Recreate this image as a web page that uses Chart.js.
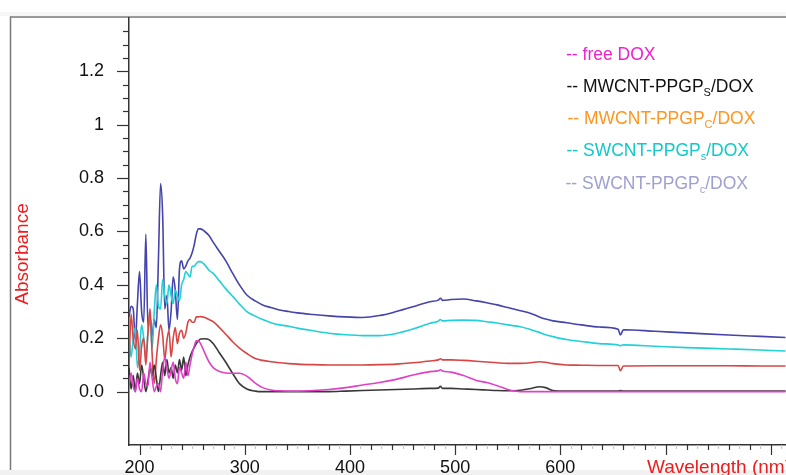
<!DOCTYPE html>
<html><head><meta charset="utf-8">
<style>
html,body{margin:0;padding:0;background:#fff;overflow:hidden}
#wrap{position:relative;width:786px;height:475px}
canvas{display:block}
</style>
<script src="https://cdn.jsdelivr.net/npm/chart.js@4.4.1/dist/chart.umd.min.js"></script>
</head><body>
<div id="wrap"><canvas id="c" width="786" height="475"></canvas></div>
<script>
// Wavelength grid (nm)
const wavelengths = [
  190,192,194,196,198,200,202,204,206,208,210,212,214,216,218,220,222,224,226,228,230,232,234,236,238,240,242,244,246,248,250,252,254,256,
  258,262,266,270,276,282,289,295,302,310,317,325,333,342,350,365,380,396,412,428,444,460,476,484,486,488,496,508,520,530,540,550,562,572,580,586,593,606,620,637,655,657,660,690,720,760,790,814
];
// free DOX (magenta)
const absFreeDox = [
  .03,.07,.02,.00,.05,.01,.00,.07,.03,.02,.11,.05,.00,.02,.03,.00,.08,.13,.09,.05,.08,.11,.05,.03,.09,.07,.05,.11,.06,.10,.14,.17,.19,.19,
  .18,.145,.112,.09,.075,.07,.069,.069,.058,.032,.015,.006,.003,.002,.002,.004,.008,.015,.025,.034,.046,.062,.075,.078,.082,.077,.073,.06,.042,.034,.022,.008,0,0,0,0,0,0,0,0,0,0,0,0,0,0,0,0
];
// MWCNT-PPGPs/DOX (black)
const absMwcntS = [
  .09,.01,.06,.00,.07,.03,.10,.05,.00,.04,.09,.06,.10,.05,.00,.06,.11,.06,.12,.07,.09,.05,.10,.07,.12,.08,.13,.06,.10,.13,.15,.165,.18,.19,
  .197,.198,.195,.18,.145,.11,.065,.03,.01,.002,0,0,0,0,0,0,0,.002,.004,.006,.008,.01,.012,.013,.02,.012,.012,.01,.008,.006,.004,.003,.005,.012,.018,.015,.004,.002,.002,.002,.002,.004,.002,.002,.002,.002,.002,.002
];
// MWCNT-PPGPc/DOX (red)
const absMwcntC = [
  .09,.29,.20,.16,.23,.08,.17,.20,.10,.22,.31,.14,.03,.12,.20,.25,.21,.12,.19,.23,.13,.20,.24,.18,.22,.23,.20,.22,.26,.27,.26,.26,.28,.28,
  .281,.278,.27,.262,.24,.215,.185,.163,.143,.124,.117,.112,.108,.105,.103,.101,.10,.10,.10,.101,.103,.108,.115,.119,.123,.119,.119,.117,.114,.111,.108,.106,.106,.108,.112,.11,.105,.10,.099,.098,.098,.078,.096,.097,.097,.097,.096,.096
];
// SWCNT-PPGPs/DOX (cyan)
const absSwcntS = [
  .20,.13,.20,.24,.09,.15,.25,.20,.13,.22,.28,.16,.30,.40,.32,.31,.42,.36,.33,.40,.36,.33,.38,.36,.34,.40,.42,.45,.44,.43,.47,.47,.48,.487,
  .487,.475,.455,.443,.415,.385,.355,.328,.30,.283,.27,.258,.25,.245,.238,.228,.219,.213,.21,.21,.218,.235,.256,.264,.27,.265,.267,.268,.267,.262,.257,.25,.243,.232,.222,.213,.206,.195,.188,.18,.175,.172,.175,.17,.165,.16,.156,.152
];
// SWCNT-PPGPc/DOX (navy)
const absSwcntC = [
  .28,.32,.31,.19,.33,.45,.30,.26,.59,.24,.28,.21,.27,.24,.50,.78,.66,.31,.36,.23,.30,.43,.38,.27,.46,.49,.46,.47,.49,.50,.52,.55,.59,.61,
  .61,.60,.585,.56,.525,.49,.44,.40,.362,.34,.325,.315,.306,.30,.295,.289,.284,.28,.278,.285,.30,.318,.337,.343,.35,.342,.345,.347,.34,.333,.325,.315,.303,.293,.28,.272,.265,.258,.25,.242,.234,.212,.232,.226,.22,.212,.207,.203
];

const xLabelTicks = [200,300,400,500,600];
const xLabels = ['200','300','400','500','600'];
const xMajorTicks = [200,300,400,500,600,700,800];
const xMinorStep = 20;
const yLabelTicks = [0,0.2,0.4,0.6,0.8,1.0,1.2];
const yLabels = ['0.0','0.2','0.4','0.6','0.8','1','1.2'];
const yMinorStep = 0.05;

const legendRows = [
  {pre:'-- free DOX', sub:'', post:'', color:'#ee22cc', x:566, y:59.5},
  {pre:'-- MWCNT-PPGP', sub:'S', post:'/DOX', color:'#111111', x:566.5, y:91.5},
  {pre:'-- MWCNT-PPGP', sub:'C', post:'/DOX', color:'#ff9620', x:567.5, y:124},
  {pre:'-- SWCNT-PPGP', sub:'s', post:'/DOX', color:'#12c8c8', x:566.5, y:156},
  {pre:'-- SWCNT-PPGP', sub:'c', post:'/DOX', color:'#a0a0d0', x:565.5, y:188.5}
];

const FONT = '"Liberation Sans", Arial, sans-serif';

function pts(arr){ return wavelengths.map((w,i)=>({x:w,y:arr[i]})); }

function zeroPad(s){ s.paddingTop = 0; s.paddingBottom = 0; s.paddingLeft = 0; s.paddingRight = 0; }

const decor = {
  id:'decor',
  beforeDraw(chart){
    const ctx = chart.ctx;
    ctx.save();
    ctx.fillStyle = '#f1f1f1';
    ctx.fillRect(0, 470, 786, 5);
    ctx.fillStyle = '#f7f7f7';
    ctx.fillRect(0, 12, 786, 4);
    ctx.strokeStyle = '#7a7a7a';
    ctx.lineWidth = 1.5;
    ctx.beginPath();
    ctx.moveTo(10.5, 470); ctx.lineTo(10.5, 17); ctx.lineTo(786, 17);
    ctx.stroke();
    ctx.restore();
  },
  afterDraw(chart){
    const {ctx, chartArea:ca, scales:{x, y}} = chart;
    ctx.save();
    // x ticks
    ctx.lineWidth = 1.2;
    for (let v = 200; v <= 810; v += 10) {
      const px = Math.round(x.getPixelForValue(v)) + 0.5;
      const major = xMajorTicks.includes(v);
      const minor = (v - 200) % xMinorStep === 0;
      ctx.strokeStyle = (major || minor) ? '#333' : '#c8c8c8';
      const len = major ? 10 : (minor ? 5 : 4);
      ctx.beginPath(); ctx.moveTo(px, ca.bottom); ctx.lineTo(px, ca.bottom + len); ctx.stroke();
    }
    // y ticks
    for (let k = 0; k <= 27; k++) {
      const v = k * yMinorStep;
      const py = Math.round(y.getPixelForValue(v)) + 0.5;
      const major = k % 4 === 0 && k <= 24;
      ctx.strokeStyle = '#333';
      const len = major ? 12 : 6;
      ctx.beginPath(); ctx.moveTo(ca.left, py); ctx.lineTo(ca.left - len, py); ctx.stroke();
    }
    // axis titles
    ctx.fillStyle = '#ee1c1c';
    ctx.font = '19px ' + FONT;
    ctx.textAlign = 'left'; ctx.textBaseline = 'alphabetic';
    ctx.fillText('Wavelength (nm)', 647, 473);
    ctx.save();
    ctx.translate(28, 254);
    ctx.rotate(-Math.PI/2);
    ctx.textAlign = 'center';
    ctx.fillText('Absorbance', 0, 0);
    ctx.restore();
    // legend
    ctx.textAlign = 'left'; ctx.textBaseline = 'alphabetic';
    legendRows.forEach(r => {
      ctx.fillStyle = r.color;
      ctx.font = '17.5px ' + FONT;
      let cx = r.x;
      ctx.fillText(r.pre, cx, r.y); cx += ctx.measureText(r.pre).width;
      if (r.sub) {
        ctx.font = '11px ' + FONT;
        ctx.fillText(r.sub, cx, r.y + 4); cx += ctx.measureText(r.sub).width;
        ctx.font = '17.5px ' + FONT;
        ctx.fillText(r.post, cx, r.y);
      }
    });
    ctx.restore();
  }
};

new Chart(document.getElementById('c'), {
  type:'line',
  data:{
    datasets:[
      {label:'free DOX', data:pts(absFreeDox), borderColor:'#e040c8'},
      {label:'MWCNT-PPGPs/DOX', data:pts(absMwcntS), borderColor:'#383838'},
      {label:'MWCNT-PPGPc/DOX', data:pts(absMwcntC), borderColor:'#d84545'},
      {label:'SWCNT-PPGPs/DOX', data:pts(absSwcntS), borderColor:'#22d0d8'},
      {label:'SWCNT-PPGPc/DOX', data:pts(absSwcntC), borderColor:'#4444aa'}
    ].map(d => Object.assign(d, {borderWidth:1.6, pointRadius:0, fill:false, cubicInterpolationMode:'monotone'}))
  },
  options:{
    responsive:false, animation:false, devicePixelRatio:1,
    layout:{padding:{left:0, right:0, top:18, bottom:0}},
    plugins:{legend:{display:false}, tooltip:{enabled:false}},
    scales:{
      x:{
        type:'linear', min:190, max:814.5,
        afterBuildTicks: s => { s.ticks = xLabelTicks.map(v => ({value:v})); },
        afterFit: s => { s.height = 30; zeroPad(s); },
        grid:{display:false},
        border:{display:true, color:'#333', width:1.5},
        ticks:{color:'#111', font:{family:FONT, size:18}, padding:4, maxRotation:0, autoSkip:false,
          callback: v => { const i = xLabelTicks.indexOf(v); return i >= 0 ? xLabels[i] : ''; }}
      },
      y:{
        type:'linear', min:-0.2, max:1.4,
        afterBuildTicks: s => { s.ticks = yLabelTicks.map(v => ({value:v})); },
        afterFit: s => { s.width = 129; zeroPad(s); },
        grid:{display:false},
        border:{display:true, color:'#333', width:1.5},
        ticks:{color:'#111', font:{family:FONT, size:18}, padding:17,
          callback: v => { const i = yLabelTicks.findIndex(t => Math.abs(t - v) < 1e-9); return i >= 0 ? yLabels[i] : ''; }}
      }
    }
  },
  plugins:[decor]
});
</script>
</body></html>
